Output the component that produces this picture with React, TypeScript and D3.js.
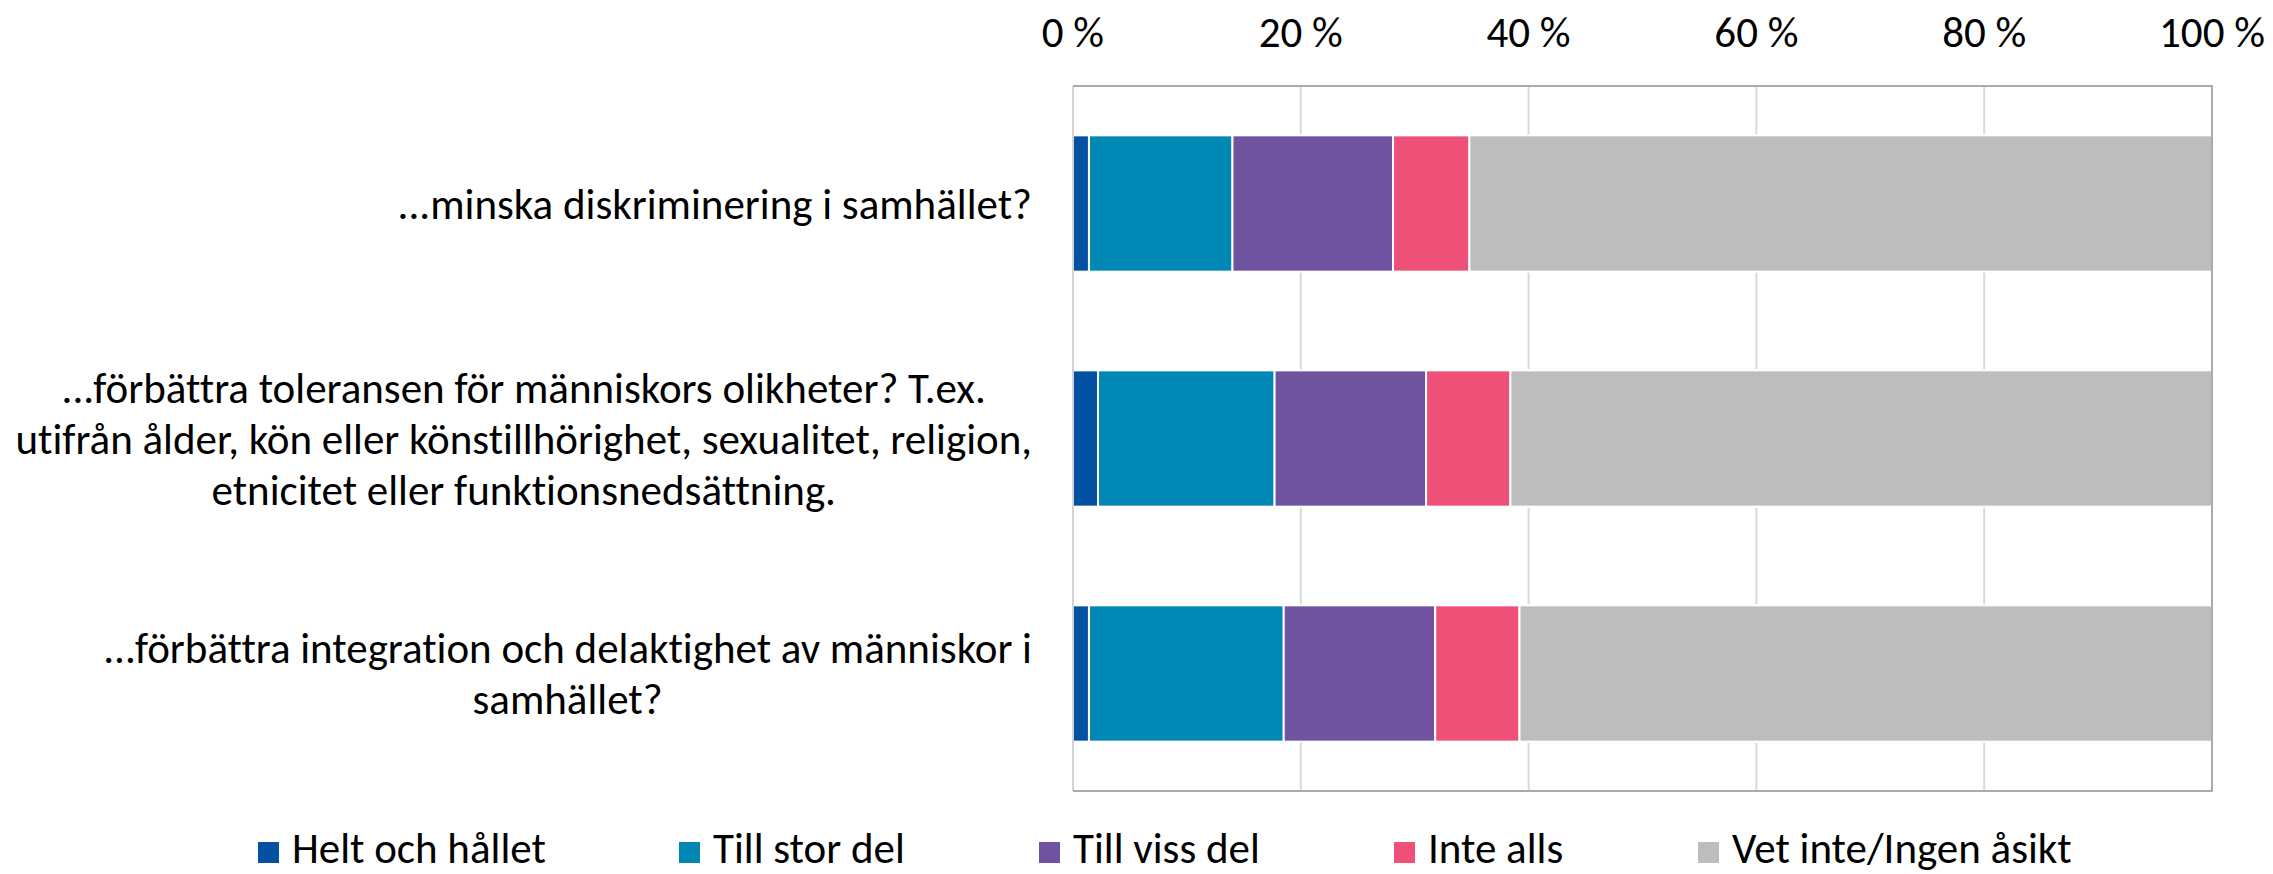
import React from "react";
import * as d3 from "d3";

const categories = [
  ["...minska diskriminering i samhället?"],
  [
    "...förbättra toleransen för människors olikheter? T.ex.",
    "utifrån ålder, kön eller könstillhörighet, sexualitet, religion,",
    "etnicitet eller funktionsnedsättning.",
  ],
  ["...förbättra integration och delaktighet av människor i", "samhället?"],
];
const seriesNames = ["Helt och hållet", "Till stor del", "Till viss del", "Inte alls", "Vet inte/Ingen åsikt"];
const seriesColors = ["#0450a3", "#0087b4", "#6f52a0", "#ef5078", "#bdbdbd"];
const heltOchHallet = [1.4, 2.2, 1.4];
const tillStorDel = [12.6, 15.5, 17.1];
const tillVissDel = [14.1, 13.3, 13.3];
const inteAlls = [6.7, 7.4, 7.4];
const vetInte = [65.2, 61.6, 60.8];
const ticks = [0, 20, 40, 60, 80, 100];

const W = 2273, H = 874;
const plot = { left: 1073, right: 2212, top: 86, bottom: 791 };
const legendX = [258, 679, 1039, 1394, 1698];
const FONT = "Carlito, Calibri, 'Liberation Sans', Arial, sans-serif";
const FS = 43;

const App = () => {
  const ref = React.useRef(null);

  React.useEffect(() => {
    const svg = d3.select(ref.current);
    svg.selectAll("*").remove();

    const x = d3.scaleLinear([0, 100], [plot.left, plot.right]);
    const y = d3.scaleBand(d3.range(categories.length), [plot.top, plot.bottom])
      .paddingInner(0.42).paddingOuter(0.21);

    const series = [heltOchHallet, tillStorDel, tillVissDel, inteAlls, vetInte];
    const rows = categories.map((_, i) => {
      const r = {};
      seriesNames.forEach((s, k) => { r[s] = series[k][i]; });
      return r;
    });
    const stacked = d3.stack().keys(seriesNames)(rows);

    // gridlines
    svg.append("g").selectAll("line").data(ticks.slice(1, -1)).join("line")
      .attr("x1", d => x(d)).attr("x2", d => x(d))
      .attr("y1", plot.top).attr("y2", plot.bottom)
      .attr("stroke", "#d9d9d9").attr("stroke-width", 2);

    // bars
    svg.append("g").selectAll("g").data(stacked).join("g")
      .attr("fill", (_, k) => seriesColors[k])
      .selectAll("rect").data(d => d).join("rect")
        .attr("x", d => x(d[0]))
        .attr("y", (_, i) => y(i))
        .attr("width", d => x(d[1]) - x(d[0]))
        .attr("height", y.bandwidth())
        .attr("stroke", "#fff").attr("stroke-width", 2);

    // frame
    svg.append("line").attr("x1", plot.left).attr("x2", plot.left)
      .attr("y1", plot.top).attr("y2", plot.bottom)
      .attr("stroke", "#d4d4d4").attr("stroke-width", 2);
    svg.append("path")
      .attr("d", `M${plot.left},${plot.top}H${plot.right}V${plot.bottom}H${plot.left}`)
      .attr("fill", "none").attr("stroke", "#ababab").attr("stroke-width", 2);

    const txt = sel => sel
      .attr("font-family", FONT).attr("font-size", FS).attr("fill", "#000")
      .style("font-variant-ligatures", "none");

    // tick labels
    svg.append("g").selectAll("text").data(ticks).join("text")
      .attr("x", d => x(d)).attr("y", 47)
      .attr("text-anchor", "middle")
      .call(txt)
      .text(d => `${d} %`);

    // category labels, centered block ending before the axis
    const labelRight = 1032;
    const lineH = 51;
    categories.forEach((lines, i) => {
      const cy = y(i) + y.bandwidth() / 2;
      const g = svg.append("g");
      const texts = g.selectAll("text").data(lines).join("text")
        .attr("y", (_, j) => cy + (j - (lines.length - 1) / 2) * lineH)
        .attr("dy", "0.35em")
        .attr("text-anchor", "middle")
        .call(txt)
        .text(d => d);
      let maxW = 0;
      texts.each(function () { maxW = Math.max(maxW, this.getComputedTextLength()); });
      texts.attr("x", labelRight - maxW / 2);
    });

    // legend
    const lg = svg.append("g").selectAll("g").data(seriesNames).join("g")
      .attr("transform", (_, k) => `translate(${legendX[k]},0)`);
    lg.append("rect").attr("x", 0).attr("y", 842).attr("width", 21).attr("height", 21)
      .attr("fill", (_, k) => seriesColors[k]);
    lg.append("text").attr("x", 34).attr("y", 863)
      .call(txt)
      .text(d => d);
  }, []);

  return (
    <svg ref={ref} width={W} height={H}
      style={{ position: "absolute", left: 0, top: 0, background: "#fff" }} />
  );
};

export default App;
